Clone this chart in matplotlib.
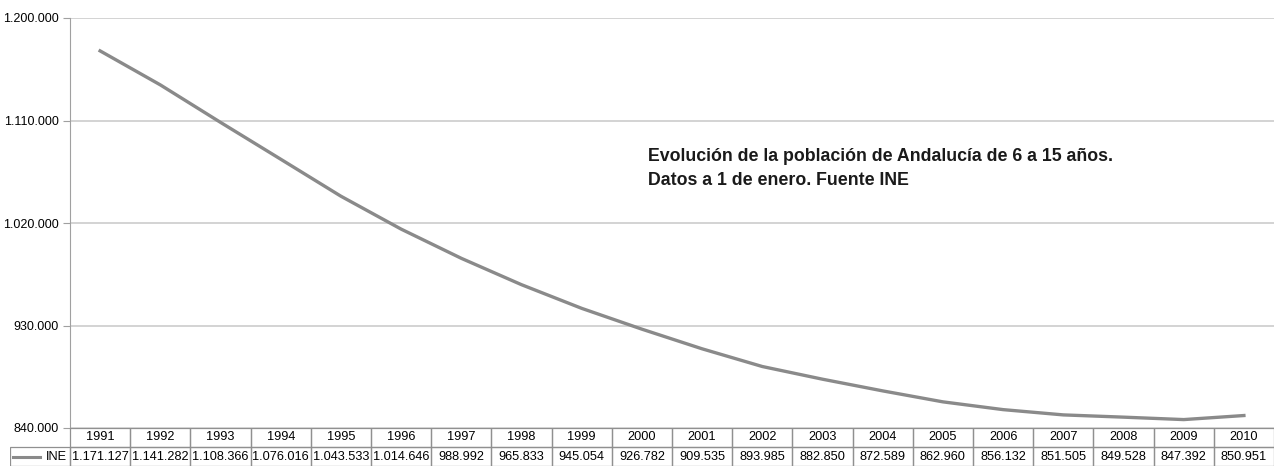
import matplotlib
matplotlib.use("Agg")
import matplotlib.pyplot as plt
from matplotlib.patches import Rectangle

years = [str(y) for y in range(1991, 2011)]
poblacion = [1171127, 1141282, 1108366, 1076016, 1043533, 1014646, 988992,
             965833, 945054, 926782, 909535, 893985, 882850, 872589, 862960,
             856132, 851505, 849528, 847392, 850951]
serie = "INE"
yticks = [840000, 930000, 1020000, 1110000, 1200000]
titulo = ["Evolución de la población de Andalucía de 6 a 15 años.",
          "Datos a 1 de enero. Fuente INE"]


def miles(v):
    return f"{v:,}".replace(",", ".")


plt.rcParams['font.family'] = ['Liberation Sans', 'DejaVu Sans']

W, H = 1276, 468
fig = plt.figure(figsize=(W / 100, H / 100), dpi=100)
ax = fig.add_axes([70 / W, 1 - 428 / H, 1204 / W, 410 / H])

x = list(range(len(years)))
ax.plot(x, poblacion, color="#8a8a8a", lw=2.4)

ax.set_xlim(-0.5, len(years) - 0.5)
ax.set_ylim(yticks[0], yticks[-1])
ax.set_yticks(yticks)
ax.set_yticklabels([miles(v) for v in yticks], fontsize=9)
ax.set_xticks([])
ax.grid(axis="y", color="#cccccc", lw=1.2)
ax.set_axisbelow(True)
for s in ["top", "right", "bottom"]:
    ax.spines[s].set_visible(False)
ax.spines["left"].set_color("#a0a0a0")
ax.tick_params(axis="y", length=5, color="#a0a0a0", pad=3)

for k, linea in enumerate(titulo):
    ax.text(0.48, 0.651 - k * 0.0585, linea, transform=ax.transAxes,
            fontsize=12.8, fontweight="bold", color="#1a1a1a",
            va="baseline")

# data table below the plot, one column per year plus the label column
cw = 1204 / 20
tab = fig.add_axes([(70 - cw) / W, 1 - 466 / H, (1204 + cw) / W, 38 / H])
tab.set_xlim(-1.5, len(years) - 0.5)
tab.set_ylim(0, 2)
tab.axis("off")
edge = "#909090"
for i, yr in enumerate(years):
    tab.add_patch(Rectangle((i - 0.5, 1), 1, 1, fill=False, ec=edge, lw=0.9))
    tab.add_patch(Rectangle((i - 0.5, 0), 1, 1, fill=False, ec=edge, lw=0.9))
    tab.text(i, 1.5, yr, ha="center", va="center", fontsize=9.2)
    tab.text(i, 0.5, miles(poblacion[i]), ha="center", va="center",
             fontsize=9.2)
tab.add_patch(Rectangle((-1.5, 0), 1, 1, fill=False, ec=edge, lw=0.9))
tab.plot([-1.45, -1.0], [0.5, 0.5], color="#8a8a8a", lw=2.2)
tab.text(-0.55, 0.5, serie, ha="right", va="center", fontsize=9.2)

fig.savefig("out.png", dpi=100)
